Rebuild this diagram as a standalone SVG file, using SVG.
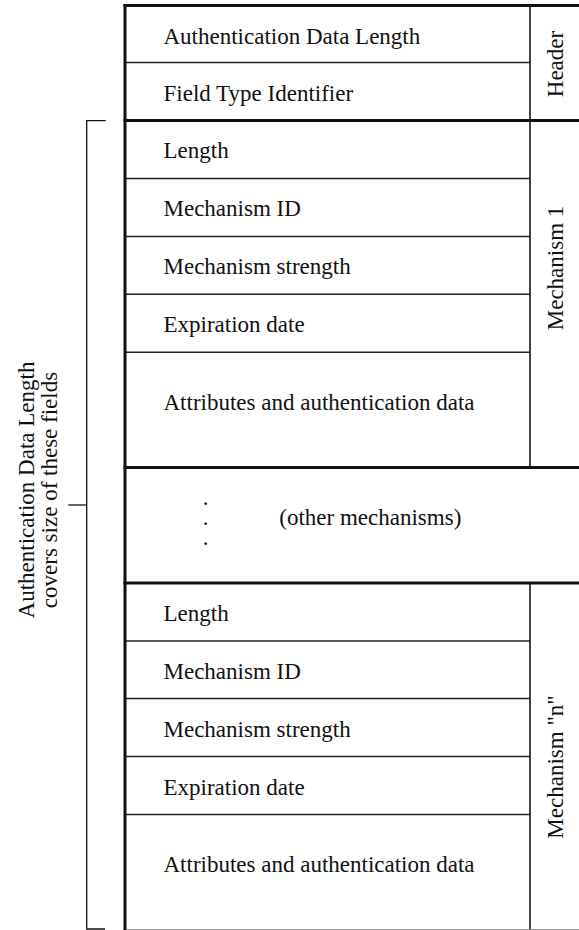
<svg xmlns="http://www.w3.org/2000/svg" width="579" height="930" viewBox="0 0 579 930">
<style>
text{font-family:"Liberation Serif","Times New Roman",serif;font-size:23px;fill:#111}
.thick{stroke:#111;stroke-width:3;fill:none}
.thin{stroke:#222;stroke-width:1.5;fill:none}
.col{stroke:#444;stroke-width:2;fill:none}
.br{stroke:#111;stroke-width:1.3;fill:none}
.v{text-anchor:middle}
.dot{font-size:17px;font-weight:bold;text-anchor:middle}
</style>
<rect width="579" height="930" fill="#fff"/>
<g id="grid">
<line class="col" x1="530" y1="5.5" x2="530" y2="467.5"/>
<line class="col" x1="530" y1="583" x2="530" y2="930"/>
<line class="thin" x1="125" y1="62.5" x2="530" y2="62.5"/>
<line class="thin" x1="125" y1="178.5" x2="530" y2="178.5"/>
<line class="thin" x1="125" y1="236.5" x2="530" y2="236.5"/>
<line class="thin" x1="125" y1="294.3" x2="530" y2="294.3"/>
<line class="thin" x1="125" y1="352.3" x2="530" y2="352.3"/>
<line class="thin" x1="125" y1="641" x2="530" y2="641"/>
<line class="thin" x1="125" y1="698.5" x2="530" y2="698.5"/>
<line class="thin" x1="125" y1="756.5" x2="530" y2="756.5"/>
<line class="thin" x1="125" y1="814.5" x2="530" y2="814.5"/>
<line class="thick" x1="123.5" y1="5.5" x2="579" y2="5.5"/>
<line class="thick" x1="123.5" y1="120.5" x2="579" y2="120.5"/>
<line class="thick" x1="123.5" y1="467.5" x2="579" y2="467.5"/>
<line class="thick" x1="123.5" y1="583" x2="579" y2="583"/>
<line x1="125" y1="929.5" x2="579" y2="929.5" stroke="#999" stroke-width="1"/>
<line class="thick" x1="125" y1="4" x2="125" y2="930"/>
</g>
<g id="header">
<g id="auth-data-length"><text x="163.5" y="43.5">Authentication Data Length</text></g>
<g id="field-type-identifier"><text x="163.5" y="100.5">Field Type Identifier</text></g>
<g id="header-label"><text class="v" transform="translate(563,64) rotate(-90)">Header</text></g>
</g>
<g id="mechanism-1">
<g id="m1-length"><text x="163.5" y="158">Length</text></g>
<g id="m1-id"><text x="163.5" y="216">Mechanism ID</text></g>
<g id="m1-strength"><text x="163.5" y="274">Mechanism strength</text></g>
<g id="m1-expiration"><text x="163.5" y="332">Expiration date</text></g>
<g id="m1-attributes"><text x="163.5" y="410">Attributes and authentication data</text></g>
<g id="m1-label"><text class="v" transform="translate(563,268) rotate(-90)">Mechanism 1</text></g>
</g>
<g id="other-mechanisms">
<text class="dot" x="205.5" y="505.3">.</text>
<text class="dot" x="205.5" y="525.3">.</text>
<text class="dot" x="205.5" y="545.3">.</text>
<text x="279.3" y="525">(other mechanisms)</text>
</g>
<g id="mechanism-n">
<g id="mn-length"><text x="163.5" y="620.5">Length</text></g>
<g id="mn-id"><text x="163.5" y="678.5">Mechanism ID</text></g>
<g id="mn-strength"><text x="163.5" y="736.5">Mechanism strength</text></g>
<g id="mn-expiration"><text x="163.5" y="794.5">Expiration date</text></g>
<g id="mn-attributes"><text x="163.5" y="872">Attributes and authentication data</text></g>
<g id="mn-label"><text class="v" transform="translate(563,767) rotate(-90)">Mechanism "n"</text></g>
</g>
<g id="connectors">
<path class="br" d="M105.7,120.7 H86.7 V929 H105"/>
<line class="br" x1="68.3" y1="505" x2="86.7" y2="505"/>
</g>
<g id="coverage-label">
<text class="v" transform="translate(34,490) rotate(-90)">Authentication Data Length</text>
<text class="v" transform="translate(57,490) rotate(-90)">covers size of these fields</text>
</g>
</svg>
